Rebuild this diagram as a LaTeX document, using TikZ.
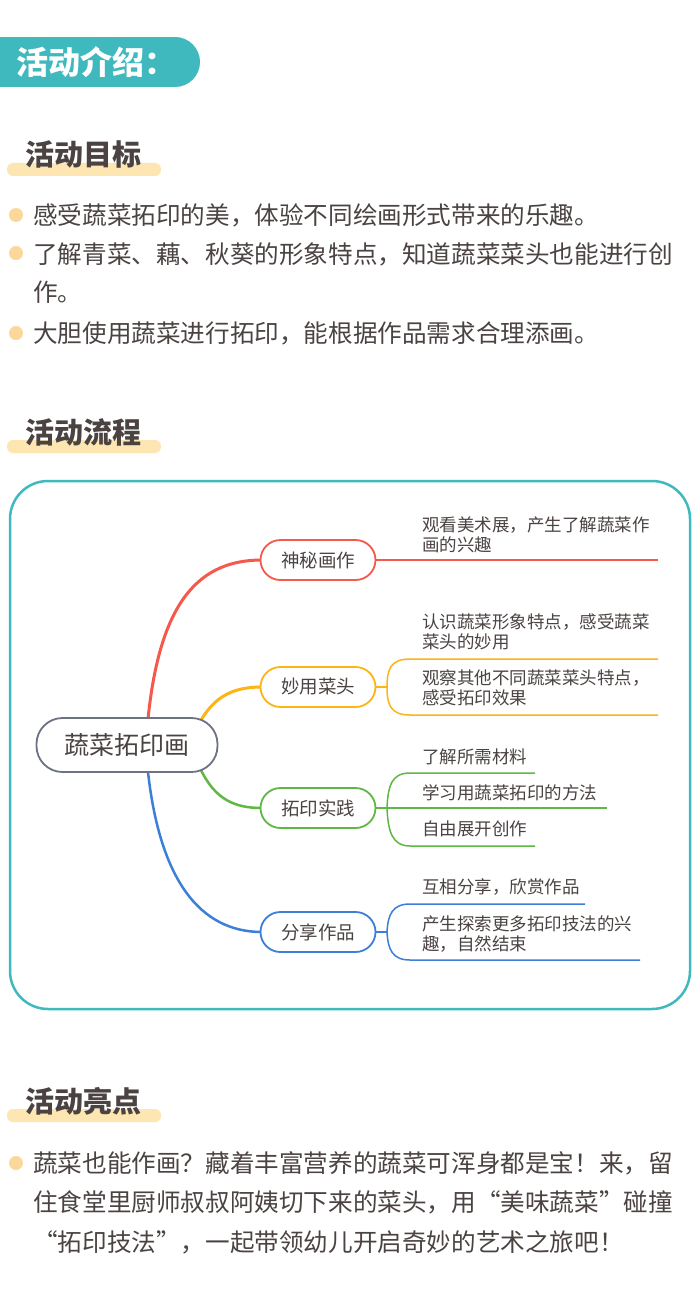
\documentclass[tikz,border=0pt]{standalone}
\usepackage{fontspec}
\setmainfont{Noto Sans CJK SC}
\definecolor{teal}{HTML}{40B9BE}
\definecolor{txt}{HTML}{4A4341}
\definecolor{bar}{HTML}{FDE6B2}
\definecolor{dot}{HTML}{FBD89A}
\definecolor{cred}{HTML}{F4594C}
\definecolor{corg}{HTML}{FDB515}
\definecolor{cgrn}{HTML}{5DB844}
\definecolor{cblu}{HTML}{3C7FD6}
\definecolor{cgry}{HTML}{6D7280}
\begin{document}
\begin{tikzpicture}[x=1pt,y=-1pt,
  body/.style={anchor=west,inner sep=0pt,text=txt,font=\fontsize{24.6}{26}\selectfont},
  head/.style={anchor=west,inner sep=0pt,text=txt,font=\fontsize{29}{30}\selectfont\bfseries},
  leaf/.style={anchor=west,inner sep=0pt,text=txt,align=left,font=\fontsize{17.5}{20}\selectfont},
  br/.style={draw,line width=1.8pt,rounded corners=20pt,minimum width=115pt,minimum height=40pt,text=txt,font=\fontsize{18.5}{20}\selectfont,fill=white},
  bdot/.style={circle,fill=dot,minimum size=14pt,inner sep=0pt}]
\useasboundingbox (0,0) rectangle (700,1292);
\fill[white] (0,0) rectangle (700,1292);
% header
\fill[teal] (0,37) rectangle (175,87);
\fill[teal] (175,62) circle (25);
\node[anchor=west,inner sep=0pt,text=white,font=\fontsize{32}{34}\selectfont\bfseries] (h0) at (16,62) {活动介绍：};
% section 1
\fill[bar,rounded corners=6pt] (7,163) rectangle (161,176);
\node[head] (h1) at (25,154) {活动目标};
\node[bdot] (d1) at (16,215) {};
\node[body] (t1) at (33,215) {感受蔬菜拓印的美，体验不同绘画形式带来的乐趣。};
\node[bdot] (d2) at (16,253) {};
\node[body] (t2) at (33,254) {了解青菜、藕、秋葵的形象特点，知道蔬菜菜头也能进行创};
\node[body] (t3) at (33,292) {作。};
\node[bdot] (d3) at (16,333) {};
\node[body] (t4) at (33,333) {大胆使用蔬菜进行拓印，能根据作品需求合理添画。};
% section 2
\fill[bar,rounded corners=6pt] (7,440) rectangle (161,453);
\node[head] (h2) at (25,432) {活动流程};
\draw[teal,line width=2.5pt,rounded corners=38pt] (10,481) rectangle (690,1009);
% mindmap branches
\coordinate (rt) at (148,719);
\draw[cred,line width=3pt] (rt) .. controls (160,600) and (200,560) .. (262,560);
\draw[corg,line width=3pt] (200,722) .. controls (215,695) and (235,687) .. (262,687);
\draw[cgrn,line width=2.5pt] (200,768) .. controls (215,800) and (235,808) .. (262,808);
\draw[cblu,line width=2.5pt] (148,772) .. controls (160,880) and (200,932) .. (262,932);
\node[draw=cgry,line width=1.8pt,rounded corners=26pt,minimum width=181pt,minimum height=54pt,fill=white,text=txt,font=\fontsize{25}{26}\selectfont] (root) at (127,745) {蔬菜拓印画};
\node[br,draw=cred] (b1) at (318,560) {神秘画作};
\node[br,draw=corg] (b2) at (318,687) {妙用菜头};
\node[br,draw=cgrn] (b3) at (318,808) {拓印实践};
\node[br,draw=cblu] (b4) at (318,932) {分享作品};
% red leaf
\draw[cred,line width=1.5pt] (b1.east) -- (658,560);
\node[leaf] (l1) at (422,535) {观看美术展，产生了解蔬菜作\\画的兴趣};
% orange leaves
\draw[corg,line width=1.5pt] (b2.east) -- (387,687);
\draw[corg,line width=1.5pt] (658,659) -- (410,659) .. controls (390,659) and (387,670) .. (387,687) .. controls (387,704) and (390,715) .. (410,715) -- (658,715);
\node[leaf] (l2) at (422,632) {认识蔬菜形象特点，感受蔬菜\\菜头的妙用};
\node[leaf] (l3) at (422,688) {观察其他不同蔬菜菜头特点，\\感受拓印效果};
% green leaves
\draw[cgrn,line width=1.5pt] (b3.east) -- (607,808);
\draw[cgrn,line width=1.5pt] (535,773) -- (410,773) .. controls (392,773) and (388,785) .. (387,808) .. controls (388,831) and (392,846) .. (410,846) -- (535,846);
\node[leaf] (l4) at (422,757) {了解所需材料};
\node[leaf] (l5) at (422,793) {学习用蔬菜拓印的方法};
\node[leaf] (l6) at (422,829) {自由展开创作};
% blue leaves
\draw[cblu,line width=1.5pt] (b4.east) -- (387,932);
\draw[cblu,line width=1.5pt] (585,904) -- (410,904) .. controls (392,904) and (388,915) .. (387,932) .. controls (388,949) and (392,960) .. (410,960) -- (640,960);
\node[leaf] (l7) at (422,887) {互相分享，欣赏作品};
\node[leaf] (l8) at (422,934) {产生探索更多拓印技法的兴\\趣，自然结束};
% section 3
\fill[bar,rounded corners=6pt] (7,1109) rectangle (161,1122);
\node[head] (h3) at (25,1101) {活动亮点};
\node[bdot] (d4) at (16,1163) {};
\node[body] (p1) at (33,1163) {蔬菜也能作画？藏着丰富营养的蔬菜可浑身都是宝！来，留};
\node[body] (p2) at (33,1202) {住食堂里厨师叔叔阿姨切下来的菜头，用“美味蔬菜”碰撞};
\node[body] (p3) at (33,1242) {“拓印技法”，一起带领幼儿开启奇妙的艺术之旅吧！};
\end{tikzpicture}
\end{document}
